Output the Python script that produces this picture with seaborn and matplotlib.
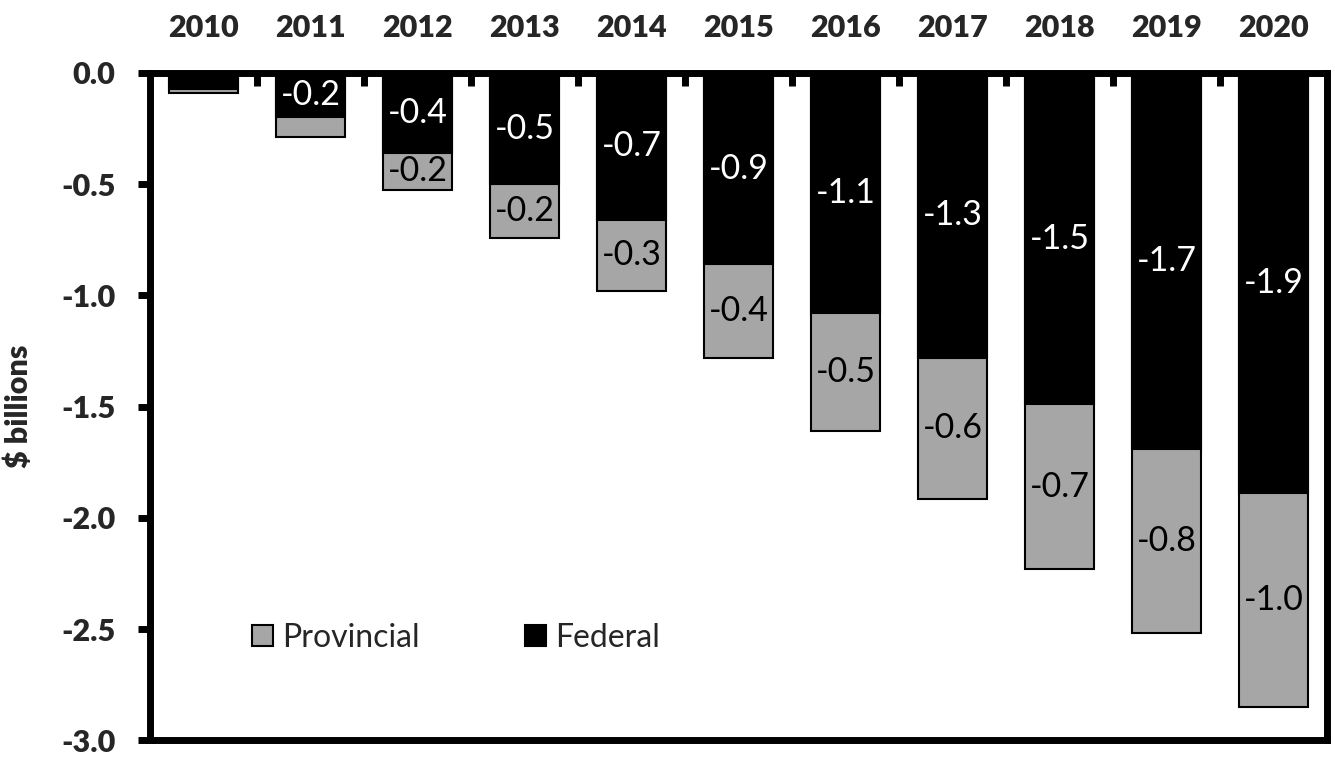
import matplotlib
matplotlib.use("Agg")
import matplotlib.pyplot as plt
import seaborn as sns
import pandas as pd
import numpy as np
from matplotlib.patches import Patch

years = ["2010", "2011", "2012", "2013", "2014", "2015", "2016", "2017", "2018", "2019", "2020"]
federal = [0.07, 0.20, 0.36, 0.50, 0.66, 0.86, 1.08, 1.28, 1.49, 1.69, 1.89]
provincial = [0.02, 0.09, 0.165, 0.24, 0.32, 0.42, 0.53, 0.635, 0.74, 0.83, 0.96]
y_ticks = [0.0, -0.5, -1.0, -1.5, -2.0, -2.5, -3.0]

sns.set_theme(style="white")
plt.rcParams['font.family'] = ['Lato', 'DejaVu Sans']

df = pd.DataFrame({
    "year": years,
    "fed": [-f for f in federal],
    "total": [-(f + p) for f, p in zip(federal, provincial)],
})

fig = plt.figure(figsize=(13.35, 7.6), dpi=100)
ax = fig.add_axes([0.1124, 0.026, 0.8816, 0.878])

gray = "#A6A6A6"
sns.barplot(data=df, x="year", y="total", color=gray, edgecolor="black",
            linewidth=1.5, width=0.65, saturation=1, ax=ax, errorbar=None)
sns.barplot(data=df, x="year", y="fed", color="black", edgecolor="black",
            linewidth=1.5, width=0.65, saturation=1, ax=ax, errorbar=None)

for i, (f, p) in enumerate(zip(federal, provincial)):
    if f >= 0.15:
        ax.text(i, -f / 2, f"-{f:.1f}", ha="center", va="center",
                color="white", fontsize=24.5)
    if p >= 0.15:
        ax.text(i, -f - p / 2, f"-{p:.1f}", ha="center", va="center",
                color="black", fontsize=24.5)

ax.set_ylim(-3.0, 0.0)
ax.set_xlim(-0.5, len(years) - 0.5)
ax.set_yticks(y_ticks)
ax.set_yticklabels([f"{t:.1f}" for t in y_ticks], fontsize=22, fontweight="heavy")
ax.xaxis.tick_top()
ax.set_xticks(range(len(years)))
ax.set_xticklabels(years, fontsize=22, fontweight="heavy")
ax.tick_params(axis="x", which="major", length=0, pad=22)
ax.set_xticks(np.arange(0.5, len(years) - 0.5, 1.0), minor=True)
ax.tick_params(axis="x", which="minor", direction="in", length=9, width=5, color="black", top=True, bottom=False)
ax.tick_params(axis="y", which="major", direction="out", length=9, width=5, color="black", left=True, pad=16)
ax.set_xlabel("")
ax.set_ylabel("$ billions", fontsize=22, fontweight="heavy", labelpad=20)

for s in ax.spines.values():
    s.set_visible(True)
    s.set_linewidth(5)
    s.set_color("black")

handles = [Patch(facecolor=gray, edgecolor="black", linewidth=1.5, label="Provincial"),
           Patch(facecolor="black", edgecolor="black", linewidth=1.5, label="Federal")]
ax.legend(handles=handles, ncol=2, frameon=False, fontsize=23, loc="lower left",
          bbox_to_anchor=(0.062, 0.088), handlelength=0.65, handleheight=0.65,
          handletextpad=0.3, columnspacing=3.3)

fig.savefig("out.png", dpi=100)
